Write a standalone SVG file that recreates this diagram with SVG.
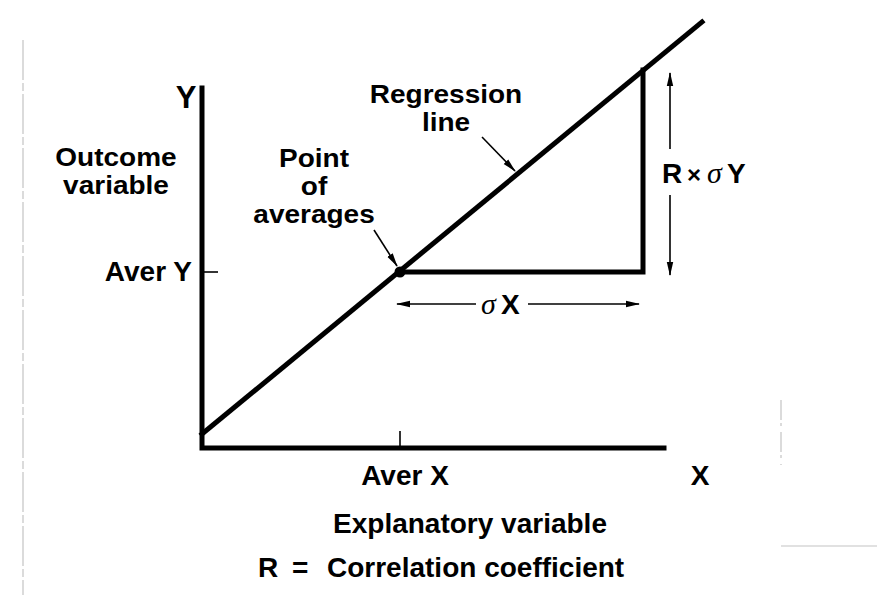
<svg xmlns="http://www.w3.org/2000/svg" width="877" height="603" viewBox="0 0 877 603">
<style>
.t{font-family:"Liberation Sans",Arial,sans-serif;font-weight:bold;font-size:28px;fill:#000}
.m{font-size:25px}
.big{font-size:31px}
.ax{stroke:#000;stroke-width:5;fill:none;stroke-linecap:square}
.thin{stroke:#000;stroke-width:1.6;fill:none}
.scan{stroke:#c4c4c4;stroke-width:1.2;fill:none}
.sig{font-family:"Liberation Serif","Times New Roman",serif;font-style:italic;font-weight:normal;font-size:30px}
</style>
<defs>
<marker id="ah" viewBox="0 0 14 8" refX="13" refY="4" markerWidth="14" markerHeight="8" markerUnits="userSpaceOnUse" orient="auto">
<path d="M0,0.8 L14,4 L0,7.2 Z" fill="#000"/>
</marker>
</defs>
<rect width="877" height="603" fill="#fff"/>
<g id="scan-marks">
<path class="scan" d="M23,40 V595" stroke-dasharray="40 3 8 3"/>
<path class="scan" d="M781,400 V465" stroke-dasharray="20 3 3 6"/>
<path class="scan" d="M781,546 H877"/>
</g>
<g id="axes">
<path class="ax" d="M202,88 V448 H664"/>
<path class="thin" d="M204,272 H218" stroke-width="2"/>
<path class="thin" d="M400,431 V446" stroke-width="2"/>
</g>
<g id="regression-line">
<path class="ax" stroke-linecap="butt" d="M202,434 L702,22"/>
</g>
<g id="triangle">
<path class="ax" stroke-linecap="butt" d="M400,272 H643 V70"/>
<circle cx="400" cy="272" r="5.5" fill="#000"/>
</g>
<g id="connectors">
<path class="thin" d="M482,137 L515,171" marker-end="url(#ah)"/>
<path class="thin" d="M374,230 L397,266" marker-end="url(#ah)"/>
<path class="thin" d="M670,149 V73" marker-end="url(#ah)"/>
<path class="thin" d="M670,195 V275" marker-end="url(#ah)"/>
<path class="thin" d="M476,304 H397" marker-end="url(#ah)"/>
<path class="thin" d="M528,304 H639" marker-end="url(#ah)"/>
</g>
<g id="labels">
<text class="t big" x="186" y="108" text-anchor="middle">Y</text>
<g id="outcome-label" transform="translate(116,0) scale(1.12,1)">
<text class="t m" x="0" y="166" text-anchor="middle">Outcome</text>
<text class="t m" x="0" y="194" text-anchor="middle">variable</text>
</g>
<text class="t" x="192" y="281" text-anchor="end">Aver Y</text>
<g id="point-label" transform="translate(314,0) scale(1.12,1)">
<text class="t m" x="0" y="167" text-anchor="middle">Point</text>
<text class="t m" x="0" y="195" text-anchor="middle">of</text>
<text class="t m" x="0" y="223" text-anchor="middle">averages</text>
</g>
<g id="regression-label" transform="translate(446,0) scale(1.12,1)">
<text class="t m" x="0" y="103" text-anchor="middle">Regression</text>
<text class="t m" x="0" y="131" text-anchor="middle">line</text>
</g>
<text class="t" y="183" font-size="30"><tspan x="662">R</tspan><tspan x="687" font-size="24">×</tspan><tspan class="sig" x="707">σ</tspan><tspan x="727">Y</tspan></text>
<text class="t" y="314" font-size="30"><tspan class="sig" x="481">σ</tspan><tspan x="501">X</tspan></text>
<text class="t" x="405" y="485" text-anchor="middle">Aver X</text>
<text class="t" x="700" y="485" text-anchor="middle">X</text>
<text class="t" x="470" y="533" text-anchor="middle">Explanatory variable</text>
<text class="t" y="577"><tspan x="258">R</tspan><tspan x="292">=</tspan><tspan x="327">Correlation coefficient</tspan></text>
</g>
</svg>
